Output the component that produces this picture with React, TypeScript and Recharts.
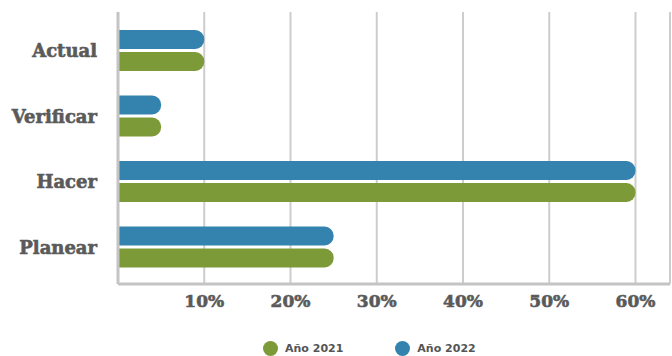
import { BarChart, Bar, XAxis, YAxis, CartesianGrid, Legend } from "recharts";

const categories = ["Actual", "Verificar", "Hacer", "Planear"];
const values2021 = [0.1, 0.05, 0.6, 0.25];
const values2022 = [0.1, 0.05, 0.6, 0.25];
const xTicks = [0, 0.1, 0.2, 0.3, 0.4, 0.5, 0.6];

const series = [
  { key: "y2021", name: "Año 2021", color: "#7d9a39" },
  { key: "y2022", name: "Año 2022", color: "#3483ae" },
];

const data = categories.map((c, i) => ({
  name: c,
  y2021: values2021[i],
  y2022: values2022[i],
}));

const labelFont = "'DejaVu Serif', serif";

function LegendBox() {
  return (
    <div style={{ display: "flex", paddingLeft: 263, paddingTop: 17, alignItems: "center", gap: 52 }}>
      {series.map((s) => (
        <div key={s.key} style={{ display: "flex", alignItems: "center" }}>
          <span
            style={{
              width: 15,
              height: 15,
              borderRadius: "50%",
              background: s.color,
              display: "inline-block",
              marginRight: 7,
            }}
          />
          <span style={{ fontFamily: "'DejaVu Sans', sans-serif", fontWeight: 700, fontSize: 11, color: "#555" }}>
            {s.name}
          </span>
        </div>
      ))}
    </div>
  );
}

export default function App() {
  return (
    <div style={{ position: "absolute", left: 0, top: 0, background: "#fff" }}>
      <BarChart
        width={672}
        height={356}
        data={data}
        layout="vertical"
        margin={{ top: 12, right: 2, bottom: 0, left: 0 }}
        barSize={19}
        barGap={3}
        barCategoryGap={14}
      >
        <CartesianGrid horizontal={false} stroke="#cdcdcd" strokeWidth={2} />
        <XAxis
          type="number"
          domain={[0, 0.64]}
          ticks={xTicks}
          allowDataOverflow
          tickFormatter={(v: number) => (v === 0 ? "" : `${Math.round(v * 100)}%`)}
          tick={{ fill: "#5a5a5a", stroke: "#5a5a5a", strokeWidth: 0.6, fontSize: 17, fontWeight: 700, fontFamily: labelFont }}
          tickLine={false}
          axisLine={{ stroke: "#c4c4c4", strokeWidth: 3 }}
          tickMargin={5}
          height={40}
        />
        <YAxis
          type="category"
          dataKey="name"
          width={118}
          padding={{ top: 6, bottom: 4 }}
          tick={{ fill: "#5a5a5a", stroke: "#5a5a5a", strokeWidth: 0.6, fontSize: 18, fontWeight: 700, fontFamily: labelFont }}
          tickLine={false}
          axisLine={{ stroke: "#c4c4c4", strokeWidth: 3 }}
          tickMargin={15}
        />
        <Legend verticalAlign="bottom" height={32} content={() => <LegendBox />} />
        <Bar dataKey="y2022" name="Año 2022" fill="#3483ae" radius={[0, 9, 9, 0]} isAnimationActive={false} />
        <Bar dataKey="y2021" name="Año 2021" fill="#7d9a39" radius={[0, 9, 9, 0]} isAnimationActive={false} />
      </BarChart>
    </div>
  );
}
